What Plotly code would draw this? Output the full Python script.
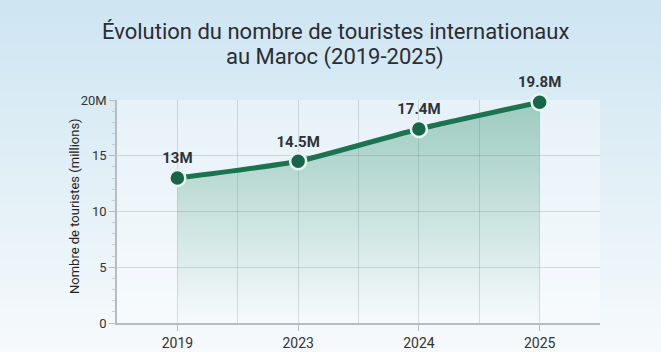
import plotly.graph_objects as go

years = ["2019", "2023", "2024", "2025"]
tourists = [13.0, 14.5, 17.4, 19.8]
labels = ["13M", "14.5M", "17.4M", "19.8M"]
y_ticks = [0, 5, 10, 15, 20]
y_ticktext = ["0", "5", "10", "15", "20M"]
title_lines = ["Évolution du nombre de touristes internationaux", "au Maroc (2019-2025)"]
y_title = "Nombre de touristes (millions)"

xpos = list(range(len(years)))

fig = go.Figure()

fig.add_trace(go.Scatter(
    x=xpos, y=tourists, mode="lines+markers+text",
    line=dict(color="#1b7350", width=5, shape="spline", smoothing=0.5),
    fill="tozeroy",
    fillgradient=dict(type="vertical",
                      colorscale=[[0, "rgba(40,140,100,0.0)"], [1, "rgba(40,140,100,0.38)"]]),
    marker=dict(size=16, color="#17664a", line=dict(color="#e8f4ee", width=2.5)),
    text=labels, textposition="top center",
    textfont=dict(family="Roboto", size=15, color="#2e3338", weight="bold"),
    cliponaxis=False, hoverinfo="skip", showlegend=False,
))

# background gradient bands
shapes = []
n = 40
top = (205, 229, 242)
bot = (248, 251, 253)
for i in range(n):
    t = i / (n - 1)
    c = tuple(int(top[k] + (bot[k] - top[k]) * t) for k in range(3))
    shapes.append(dict(type="rect", xref="paper", yref="paper", layer="below",
                       x0=-0.3, x1=1.2, y0=1.5 - (i + 1) * 1.7 / n, y1=1.5 - i * 1.7 / n + 0.01,
                       fillcolor="rgb(%d,%d,%d)" % c, line=dict(width=0)))
shapes.append(dict(type="rect", xref="paper", yref="paper", layer="below",
                   x0=0, x1=1, y0=0, y1=1, fillcolor="rgba(255,255,255,0.35)", line=dict(width=0)))

# plot area: pixels 117..600 horizontally, 100..323 vertically
def py(pix):
    return (323 - pix) / 223.0

def px(pix):
    return (pix - 117) / 483.0

annotations = [
    dict(text=title_lines[0], xref="paper", yref="paper", x=px(335), y=py(31),
         xanchor="center", yanchor="middle", showarrow=False,
         font=dict(family="Roboto", size=22, color="#2a2d31")),
    dict(text=title_lines[1], xref="paper", yref="paper", x=px(335), y=py(57),
         xanchor="center", yanchor="middle", showarrow=False,
         font=dict(family="Roboto", size=22, color="#2a2d31")),
    dict(text=y_title, xref="paper", yref="paper", x=px(74), y=py(206),
         xanchor="center", yanchor="middle", showarrow=False, textangle=-90,
         font=dict(family="Roboto", size=13, color="#222")),
]

fig.update_layout(
    width=661, height=352,
    margin=dict(l=117, r=61, t=100, b=29),
    paper_bgcolor="#e4f1f8", plot_bgcolor="rgba(0,0,0,0)",
    shapes=shapes, annotations=annotations,
    font=dict(family="Roboto", color="#333"),
    xaxis=dict(range=[-0.5, 3.5], tickmode="array", tickvals=xpos, ticktext=years,
               automargin=False,
               showgrid=True, gridcolor="rgba(150,160,165,0.35)", gridwidth=1,
               minor=dict(tickvals=[-0.5, 0.5, 1.5, 2.5, 3.5], showgrid=True,
                          gridcolor="rgba(150,160,165,0.35)", ticks=""),
               showline=True, linecolor="#b8bcc0", linewidth=1.5,
               ticks="outside", ticklen=6, tickcolor="#b8bcc0",
               tickfont=dict(size=14, color="#333"), zeroline=False, fixedrange=True),
    yaxis=dict(range=[0, 20], tickmode="array", tickvals=y_ticks, ticktext=y_ticktext,
               automargin=False,
               showgrid=True, gridcolor="rgba(150,160,165,0.35)", gridwidth=1,
               showline=True, linecolor="#b8bcc0", linewidth=1.5,
               ticks="outside", ticklen=6, tickcolor="#b8bcc0",
               minor=dict(dtick=1, ticks="outside", ticklen=3, tickcolor="#c8ccd0", showgrid=False),
               tickfont=dict(size=13, color="#333"), zeroline=False),
)

fig.write_html("out.html")
